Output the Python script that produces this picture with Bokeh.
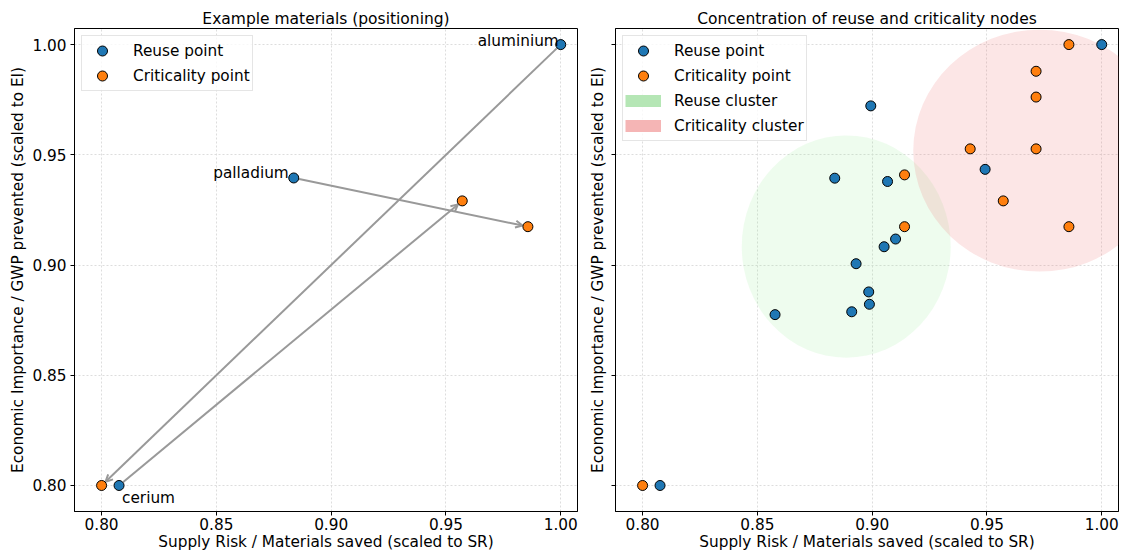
import math
from bokeh.plotting import figure
from bokeh.layouts import row
from bokeh.models import (ColumnDataSource, Arrow, OpenHead, FixedTicker,
                          PrintfTickFormatter, CustomJSTickFormatter, Legend,
                          LegendItem, Range1d)
from bokeh.embed import file_html
from bokeh.resources import INLINE
from bokeh.core.properties import value

# ---------------- data ----------------
materials = ["aluminium", "palladium", "cerium"]
mat_reuse_x = [1.000, 0.8837, 0.8076]
mat_reuse_y = [1.000, 0.9395, 0.8000]
mat_crit_x = [0.800, 0.9857, 0.9571]
mat_crit_y = [0.800, 0.9174, 0.9291]

reuse_x = [1.000, 0.8994, 0.8837, 0.9067, 0.9492, 0.9102, 0.9052, 0.8930,
           0.8985, 0.8988, 0.8911, 0.8577, 0.8076]
reuse_y = [1.000, 0.9722, 0.9394, 0.9379, 0.9434, 0.9118, 0.9083, 0.9006,
           0.8878, 0.8822, 0.8788, 0.8775, 0.8000]
crit_x = [0.9857, 0.9714, 0.9714, 0.9427, 0.9714, 0.9141, 0.9571, 0.9141,
          0.9857, 0.8000]
crit_y = [1.000, 0.9879, 0.9762, 0.9527, 0.9527, 0.9409, 0.9291, 0.9174,
          0.9174, 0.8000]

cluster_names = ["Reuse cluster", "Criticality cluster"]
cluster_cx = [0.8887, 0.9729]
cluster_cy = [0.9084, 0.9519]
cluster_w = [0.0910, 0.1100]
cluster_h = [0.1008, 0.1098]

ticks = [0.80, 0.85, 0.90, 0.95, 1.00]
axis_min, axis_max = 0.7882, 1.0073

# ---------------- style ----------------
FONT = "DejaVu Sans"
FS = "15.3px"
BLUE = "#1f77b4"
ORANGE = "#ff7f0e"
ARROW_C = "#999999"
GREEN_FILL, GREEN_ALPHA = "#90ee90", 0.15
RED_FILL, RED_ALPHA = "#f08080", 0.2
GREEN_LEG = "#b5e6b5"
RED_LEG = "#f5b5b5"
label_offsets = [(-2, -4), (-5, -5), (3, 4)]
label_align = ["right", "right", "left"]
label_base = ["alphabetic", "alphabetic", "top"]

H = 556
TOP, BOTTOM = 28, 45
FRAME_W = 503
FRAME_H = H - TOP - BOTTOM
W1_LEFT, W1_RIGHT = 74, 8
W2_LEFT, W2_RIGHT = 30, 4


def make_fig(title, width, bl, br, ylabels=True):
    p = figure(width=width, height=H,
               x_range=Range1d(axis_min, axis_max),
               y_range=Range1d(axis_min, axis_max),
               output_backend="svg", toolbar_location=None,
               min_border_left=bl, min_border_right=br,
               min_border_top=TOP, min_border_bottom=BOTTOM)
    p.title.text = title
    p.title.align = "center"
    p.title.text_font = FONT
    p.title.text_font_size = "15.5px"
    p.title.text_font_style = "normal"
    p.title.text_color = "black"
    p.title.standoff = 2
    p.outline_line_color = "black"
    p.outline_line_width = 1
    for ax in (p.xaxis[0], p.yaxis[0]):
        ax.ticker = FixedTicker(ticks=ticks)
        ax.formatter = PrintfTickFormatter(format="%.2f")
        ax.major_label_text_font = FONT
        ax.major_label_text_font_size = FS
        ax.major_label_text_color = "black"
        ax.axis_label_text_font = FONT
        ax.axis_label_text_font_size = FS
        ax.axis_label_text_font_style = "normal"
        ax.axis_label_text_color = "black"
        ax.major_tick_in = 0
        ax.major_tick_out = 4
        ax.minor_tick_line_color = None
        ax.axis_line_color = "black"
        ax.major_tick_line_color = "black"
    p.xaxis.axis_label = "Supply Risk / Materials saved (scaled to SR)"
    p.yaxis.axis_label = "Economic Importance / GWP prevented (scaled to EI)"
    p.xaxis.major_label_standoff = 2
    p.xaxis.axis_label_standoff = 0
    if ylabels:
        p.yaxis.major_label_standoff = 4
        p.yaxis.axis_label_standoff = 2
    else:
        p.yaxis.formatter = CustomJSTickFormatter(code="return ''")
        p.yaxis.major_label_standoff = 0
        p.yaxis.axis_label_standoff = 5
    p.grid.grid_line_color = "#dddddd"
    p.grid.grid_line_dash = "2 2"
    p.grid.grid_line_width = 1
    return p


def style_legend(leg):
    leg.location = "top_left"
    leg.margin = 7
    leg.padding = 2
    leg.spacing = -2
    leg.glyph_width = 36
    leg.glyph_height = 25
    leg.label_height = 20
    leg.label_standoff = 13
    leg.label_text_font = FONT
    leg.label_text_font_size = FS
    leg.label_text_color = "black"
    leg.border_line_color = "#cccccc"
    leg.border_line_width = 1
    leg.background_fill_alpha = 0.8


# ---------------- left panel ----------------
p1 = make_fig("Example materials (positioning)",
              W1_LEFT + FRAME_W + W1_RIGHT, W1_LEFT, W1_RIGHT)

sxs = FRAME_W / (axis_max - axis_min)
sys_ = FRAME_H / (axis_max - axis_min)
SHRINK = 5.5
x0s, y0s, x1s, y1s = [], [], [], []
for xa, ya, xb, yb in zip(mat_reuse_x, mat_reuse_y, mat_crit_x, mat_crit_y):
    dxp = (xb - xa) * sxs
    dyp = (yb - ya) * sys_
    L = math.hypot(dxp, dyp)
    ux, uy = dxp / L, dyp / L
    x0s.append(xa + ux * SHRINK / sxs)
    y0s.append(ya + uy * SHRINK / sys_)
    x1s.append(xb - ux * SHRINK / sxs)
    y1s.append(yb - uy * SHRINK / sys_)
arrow_src = ColumnDataSource(dict(x0=x0s, y0=y0s, x1=x1s, y1=y1s))
p1.add_layout(Arrow(end=OpenHead(size=7, line_color=ARROW_C, line_width=2),
                    x_start="x0", y_start="y0", x_end="x1", y_end="y1",
                    source=arrow_src, line_color=ARROW_C, line_width=2,
                    level="underlay"))

r_reuse1 = p1.scatter(mat_reuse_x, mat_reuse_y, size=10, fill_color=BLUE,
                      line_color="black", line_width=1)
r_crit1 = p1.scatter(mat_crit_x, mat_crit_y, size=10, fill_color=ORANGE,
                     line_color="black", line_width=1)

for i, name in enumerate(materials):
    p1.text([mat_reuse_x[i]], [mat_reuse_y[i]], text=[name],
            x_offset=label_offsets[i][0], y_offset=label_offsets[i][1],
            text_align=label_align[i], text_baseline=label_base[i],
            text_font=value(FONT), text_font_size=FS, text_color="black")

leg1 = Legend(items=[LegendItem(label="Reuse point", renderers=[r_reuse1]),
                     LegendItem(label="Criticality point", renderers=[r_crit1])])
style_legend(leg1)
p1.add_layout(leg1)

# ---------------- right panel ----------------
p2 = make_fig("Concentration of reuse and criticality nodes",
              W2_LEFT + FRAME_W + W2_RIGHT, W2_LEFT, W2_RIGHT, ylabels=False)

p2.ellipse([cluster_cx[0]], [cluster_cy[0]], width=[cluster_w[0]],
           height=[cluster_h[0]], fill_color=GREEN_FILL,
           fill_alpha=GREEN_ALPHA, line_color=None)
p2.ellipse([cluster_cx[1]], [cluster_cy[1]], width=[cluster_w[1]],
           height=[cluster_h[1]], fill_color=RED_FILL,
           fill_alpha=RED_ALPHA, line_color=None)

r_reuse2 = p2.scatter(reuse_x, reuse_y, size=10, fill_color=BLUE,
                      line_color="black", line_width=1)
r_crit2 = p2.scatter(crit_x, crit_y, size=10, fill_color=ORANGE,
                     line_color="black", line_width=1)

# legend-only proxies (hidden renderers)
r_leg_g = p2.line(cluster_cx, cluster_cy, line_color=GREEN_LEG, line_width=12,
                  visible=False)
r_leg_r = p2.line(cluster_cx, cluster_cy, line_color=RED_LEG, line_width=12,
                  visible=False)

leg2 = Legend(items=[LegendItem(label="Reuse point", renderers=[r_reuse2]),
                     LegendItem(label="Criticality point", renderers=[r_crit2]),
                     LegendItem(label=cluster_names[0], renderers=[r_leg_g]),
                     LegendItem(label=cluster_names[1], renderers=[r_leg_r])])
style_legend(leg2)
p2.add_layout(leg2)

layout = row(p1, p2)
open("out.html", "w").write(file_html(layout, INLINE))
